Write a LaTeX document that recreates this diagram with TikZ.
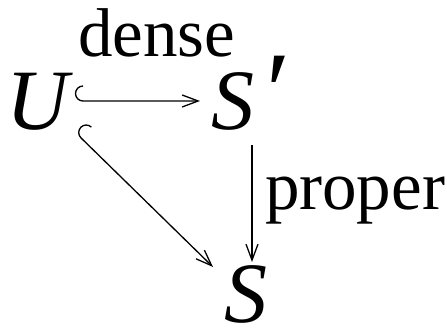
\documentclass[tikz,border=0pt]{standalone}
\usepackage{fontspec}
\setmainfont{Liberation Serif}
\usetikzlibrary{arrows.meta}
\begin{document}
\begin{tikzpicture}[x=1pt,y=1pt,
  mathlbl/.style={font=\fontsize{86}{90}\selectfont\itshape, inner sep=0pt, outer sep=0pt},
  txtlbl/.style={font=\fontsize{69}{80}\selectfont, inner sep=0pt, outer sep=0pt},
  arr/.style={line width=1.3pt, -{Straight Barb[length=16pt,width=12pt,line width=1.3pt]}}]
\useasboundingbox (0,0) rectangle (447,331);
\node[mathlbl,anchor=base] (U) at (38,201) {U};
\node[mathlbl,anchor=base west] (Sp) at (211,201) {S\hspace{5pt}{\fontsize{112}{112}\selectfont ′}};
\node[mathlbl,anchor=base] (S) at (246,8) {S};
\node[txtlbl,anchor=base west] (dense) at (78,274) {dense};
\node[txtlbl,anchor=base west] (proper) at (265,121) {proper};
\draw[arr] ([shift={(45,44)}]U.base) arc[start angle=90,end angle=270,radius=7.5] -- ([shift={(-11,29)}]Sp.base west);
\draw[arr] ([shift={(53.4,2.9)}]U.base) arc[start angle=46.3,end angle=226.3,radius=7.5] -- ([shift={(-33,56)}]S.base);
\draw[arr] ([shift={(41,-15)}]Sp.base west) -- ([shift={(6,61)}]S.base);
\end{tikzpicture}
\end{document}
